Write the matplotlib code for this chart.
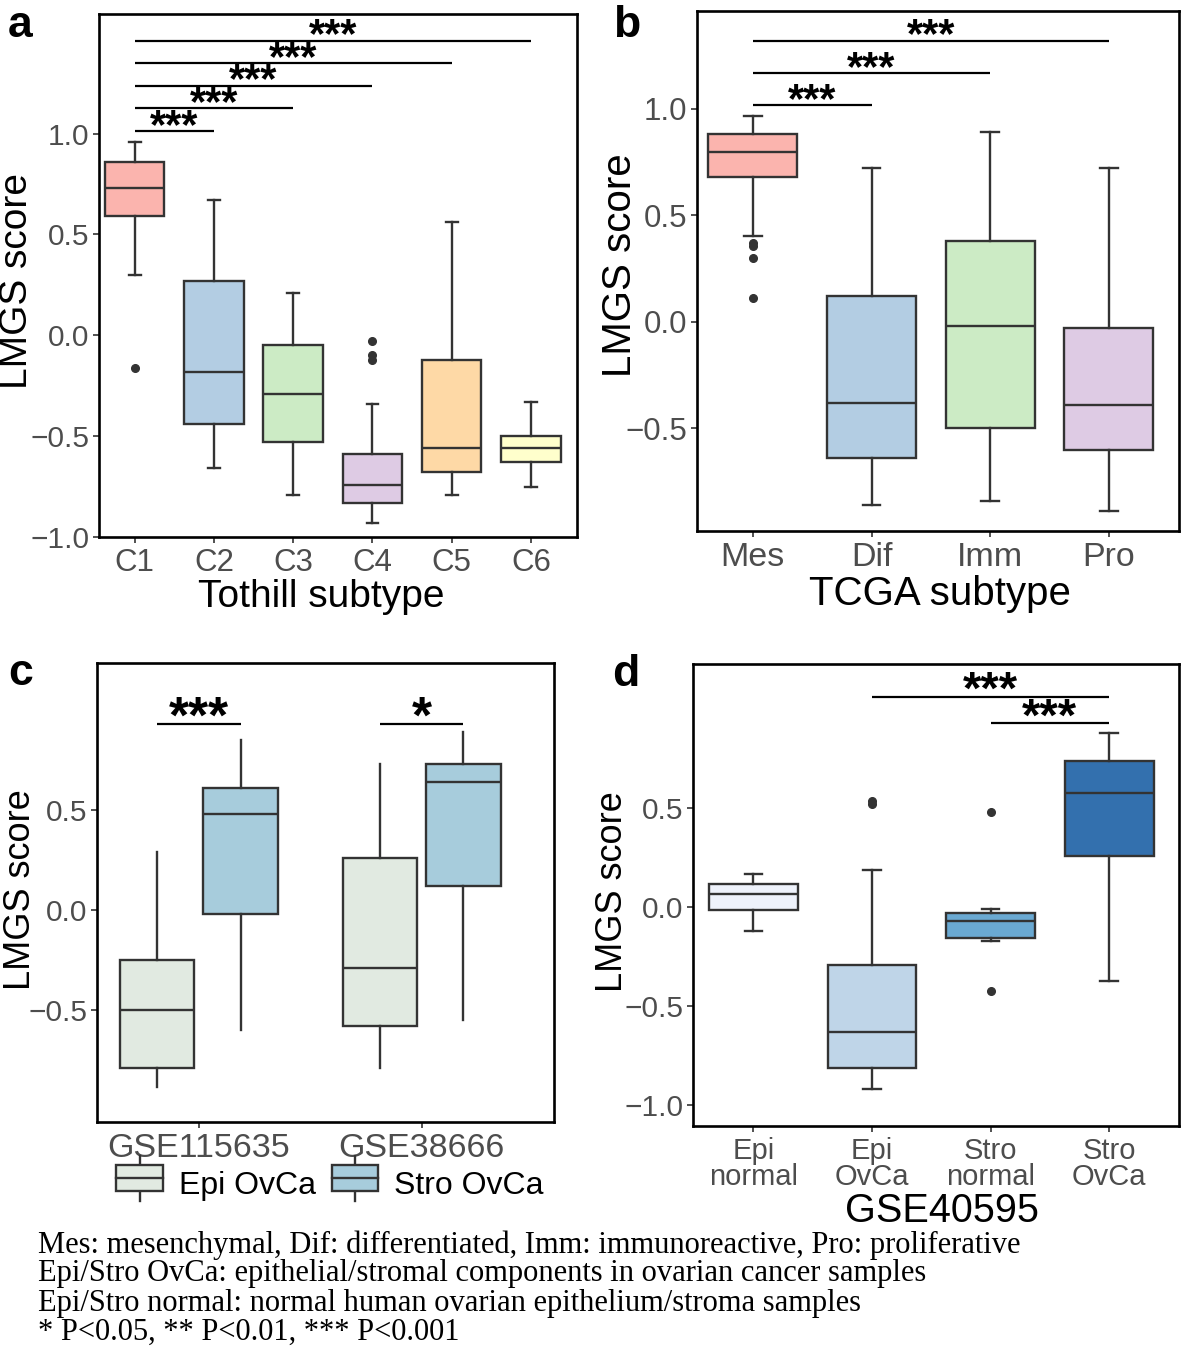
import numpy as np
import matplotlib
matplotlib.use('Agg')
import matplotlib.pyplot as plt
from matplotlib.legend_handler import HandlerBase
from matplotlib.patches import Rectangle, Patch
from matplotlib.lines import Line2D

plt.rcParams['font.family'] = ['Liberation Sans', 'DejaVu Sans']

# ---- data ----
# a: Tothill subtype
tothill = ['C1', 'C2', 'C3', 'C4', 'C5', 'C6']
tothill_lo = [0.30, -0.66, -0.79, -0.93, -0.79, -0.75]
tothill_q1 = [0.59, -0.44, -0.53, -0.83, -0.68, -0.63]
tothill_med = [0.73, -0.18, -0.29, -0.74, -0.56, -0.56]
tothill_q3 = [0.86, 0.27, -0.05, -0.59, -0.12, -0.50]
tothill_hi = [0.96, 0.67, 0.21, -0.34, 0.56, -0.33]
tothill_out = [[-0.16], [], [], [-0.03, -0.10, -0.12], [], []]
tothill_sig = [('C1', 'C2', '***'), ('C1', 'C3', '***'), ('C1', 'C4', '***'),
               ('C1', 'C5', '***'), ('C1', 'C6', '***')]

# b: TCGA subtype
tcga = ['Mes', 'Dif', 'Imm', 'Pro']
tcga_lo = [0.40, -0.86, -0.84, -0.89]
tcga_q1 = [0.68, -0.64, -0.50, -0.60]
tcga_med = [0.795, -0.38, -0.02, -0.39]
tcga_q3 = [0.88, 0.12, 0.38, -0.03]
tcga_hi = [0.965, 0.72, 0.89, 0.72]
tcga_out = [[0.37, 0.355, 0.30, 0.11], [], [], []]
tcga_sig = [('Mes', 'Dif', '***'), ('Mes', 'Imm', '***'), ('Mes', 'Pro', '***')]

# c: two datasets, epithelial vs stromal
gse_sets = ['GSE115635', 'GSE38666']
comp = ['Epi OvCa', 'Stro OvCa']
epi_lo = [-0.885, -0.79]
epi_q1 = [-0.79, -0.58]
epi_med = [-0.50, -0.29]
epi_q3 = [-0.25, 0.26]
epi_hi = [0.29, 0.73]
stro_lo = [-0.60, -0.55]
stro_q1 = [-0.02, 0.12]
stro_med = [0.48, 0.64]
stro_q3 = [0.61, 0.73]
stro_hi = [0.85, 0.89]
gse_sig = ['***', '*']

# d: GSE40595
g4 = ['Epi\nnormal', 'Epi\nOvCa', 'Stro\nnormal', 'Stro\nOvCa']
g4_lo = [-0.12, -0.92, -0.17, -0.37]
g4_q1 = [-0.015, -0.81, -0.155, 0.26]
g4_med = [0.07, -0.63, -0.07, 0.58]
g4_q3 = [0.12, -0.29, -0.03, 0.74]
g4_hi = [0.17, 0.19, -0.01, 0.88]
g4_out = [[], [0.54, 0.52], [0.48, -0.425], []]
g4_sig = [(1, 3, '***'), (2, 3, '***')]

pastel = ['#FBB4AE', '#B3CDE3', '#CCEBC5', '#DECBE4', '#FED9A6', '#FFFFCC']
c_cols = ['#E1EAE1', '#A7CCDC']
d_cols = ['#EEF2FB', '#BFD5E8', '#6AA9D2', '#3370AE']
EDGE = '#333333'
TICKC = '#4D4D4D'

W, H = 1181, 1348
fig = plt.figure(figsize=(W / 100, H / 100), dpi=100)


def add_ax(x0, x1, y0, y1):
    return fig.add_axes([x0 / W, 1 - y1 / H, (x1 - x0) / W, (y1 - y0) / H])


def ftext(x, y, s, **kw):
    # figure text placed in pixel coords from the top-left
    fig.text(x / W, 1 - y / H, s, **kw)


def boxes(ax, lo, q1, med, q3, hi, out, pos, cols, width=0.75, caps=True):
    stats = []
    for i in range(len(pos)):
        stats.append(dict(whislo=lo[i], q1=q1[i], med=med[i], q3=q3[i],
                          whishi=hi[i], fliers=out[i]))
    bp = ax.bxp(stats, positions=pos, widths=width, patch_artist=True,
                showcaps=caps, capwidths=0.15,
                boxprops=dict(edgecolor=EDGE, linewidth=1.7),
                medianprops=dict(color=EDGE, linewidth=1.7),
                whiskerprops=dict(color=EDGE, linewidth=1.7),
                capprops=dict(color=EDGE, linewidth=1.7),
                flierprops=dict(marker='o', markerfacecolor=EDGE, markeredgecolor=EDGE,
                                markersize=5.5))
    for p, c in zip(bp['boxes'], cols):
        p.set_facecolor(c)
    return bp


def style(ax, xsize, ysize):
    for s in ax.spines.values():
        s.set_linewidth(1.9)
        s.set_color('black')
    ax.tick_params(axis='x', labelsize=xsize, labelcolor=TICKC, color=EDGE,
                   length=4, width=1.2, pad=4)
    ax.tick_params(axis='y', labelsize=ysize, labelcolor=TICKC, color=EDGE,
                   length=4, width=1.2, pad=3)
    ax.yaxis.set_major_formatter(plt.FuncFormatter(
        lambda v, p: ('\u2212%.1f' % -v) if v < 0 else '%.1f' % v))


def sig(ax, x1, x2, y, txt, fs):
    ax.plot([x1, x2], [y, y], color='black', lw=1.6, solid_capstyle='butt')
    ax.annotate(txt, xy=((x1 + x2) / 2, y), xytext=(0, -0.16 * fs),
                textcoords='offset points', ha='center', va='baseline',
                fontsize=fs, fontweight='bold', color='black')


# ---- a ----
ax = add_ax(99, 577, 14, 537)
xa = np.arange(1, len(tothill) + 1)
boxes(ax, tothill_lo, tothill_q1, tothill_med, tothill_q3, tothill_hi, tothill_out,
      xa, pastel)
ax.set_xlim(0.55, 6.58)
ax.set_ylim(-1.0, 1.593)
ax.set_yticks([-1.0, -0.5, 0.0, 0.5, 1.0])
ax.set_xticks(xa)
ax.set_xticklabels(tothill)
style(ax, 22.5, 21.5)
for i, (g1, g2, t) in enumerate(tothill_sig):
    sig(ax, tothill.index(g1) + 1, tothill.index(g2) + 1, 1.013 + 0.112 * i, t, 30)
ftext(17, 281, 'LMGS score', fontsize=28, rotation=90, ha='center', va='center')
ftext(321, 597, 'Tothill subtype', fontsize=28, ha='center', va='center')
ftext(8, 37, 'a', fontsize=32, fontweight='bold')

# ---- b ----
ax = add_ax(697, 1179, 11, 531)
xb = np.arange(1, len(tcga) + 1)
boxes(ax, tcga_lo, tcga_q1, tcga_med, tcga_q3, tcga_hi, tcga_out, xb, pastel[:4])
ax.set_xlim(0.53, 4.59)
ax.set_ylim(-0.982, 1.458)
ax.set_yticks([-0.5, 0.0, 0.5, 1.0])
ax.set_xticks(xb)
ax.set_xticklabels(tcga)
style(ax, 24.5, 22.5)
for i, (g1, g2, t) in enumerate(tcga_sig):
    sig(ax, tcga.index(g1) + 1, tcga.index(g2) + 1, 1.015 + 0.152 * i, t, 30)
ftext(620, 265, 'LMGS score', fontsize=29, rotation=90, ha='center', va='center')
ftext(940, 594, 'TCGA subtype', fontsize=29, ha='center', va='center')
ftext(613, 37, 'b', fontsize=32, fontweight='bold')

# ---- c ----
ax = add_ax(97, 554, 663, 1122)
xc = np.arange(1, len(gse_sets) + 1)
off = 0.1875
boxes(ax, epi_lo, epi_q1, epi_med, epi_q3, epi_hi, [[], []], xc - off,
      [c_cols[0]] * 2, width=0.335, caps=False)
boxes(ax, stro_lo, stro_q1, stro_med, stro_q3, stro_hi, [[], []], xc + off,
      [c_cols[1]] * 2, width=0.335, caps=False)
ax.set_xlim(0.542, 2.595)
ax.set_ylim(-1.058, 1.237)
ax.set_yticks([-0.5, 0.0, 0.5])
ax.set_xticks(xc)
ax.set_xticklabels(gse_sets)
style(ax, 24.5, 21.5)
for i, t in enumerate(gse_sig):
    sig(ax, xc[i] - off, xc[i] + off, 0.93, t, 37)
ftext(21, 890, 'LMGS score', fontsize=26, rotation=90, ha='center', va='center')


class BoxKey(HandlerBase):
    def create_artists(self, legend, orig, xd, yd, w, h, fontsize, trans):
        fc = orig.get_facecolor()
        cx = xd + w / 2
        r = Rectangle((xd, yd), w, h, facecolor=fc, edgecolor=EDGE, lw=1.7,
                      transform=trans)
        m = Line2D([xd, xd + w], [yd + h / 2] * 2, color=EDGE, lw=1.7, transform=trans)
        t = Line2D([cx, cx], [yd + h, yd + h * 1.35], color=EDGE, lw=1.7, transform=trans)
        b = Line2D([cx, cx], [yd - h * 0.35, yd], color=EDGE, lw=1.7, transform=trans)
        return [t, b, r, m]


handles = [Patch(facecolor=c) for c in c_cols]
fig.legend(handles, comp, handler_map={Patch: BoxKey()}, loc='center',
           bbox_to_anchor=(330 / W, 1 - 1185 / H), ncol=2, frameon=False,
           fontsize=23, handlelength=1.45, handleheight=0.9, handletextpad=0.5,
           columnspacing=0.5)
ftext(8, 685, 'c', fontsize=32, fontweight='bold')

# ---- d ----
ax = add_ax(693, 1179, 664, 1126)
xd = np.arange(1, len(g4) + 1)
boxes(ax, g4_lo, g4_q1, g4_med, g4_q3, g4_hi, g4_out, xd, d_cols)
ax.set_xlim(0.49, 4.59)
ax.set_ylim(-1.105, 1.23)
ax.set_yticks([-1.0, -0.5, 0.0, 0.5])
ax.set_xticks(xd)
ax.set_xticklabels(g4, linespacing=0.9)
style(ax, 21, 21.5)
for i, (g1, g2, t) in enumerate(g4_sig):
    sig(ax, xd[g1], xd[g2], 1.065 - 0.135 * i, t, 34)
ftext(613, 892, 'LMGS score', fontsize=26, rotation=90, ha='center', va='center')
ftext(942, 1211, 'GSE40595', fontsize=28.5, ha='center', va='center')
ftext(612, 686, 'd', fontsize=32, fontweight='bold')

# ---- caption ----
caption = ['Mes: mesenchymal, Dif: differentiated, Imm: immunoreactive, Pro: proliferative',
           'Epi/Stro OvCa: epithelial/stromal components in ovarian cancer samples',
           'Epi/Stro normal: normal human ovarian epithelium/stroma samples',
           '* P<0.05, ** P<0.01, *** P<0.001']
for i, line in enumerate(caption):
    ftext(38, 1245 + 29 * i, line, fontsize=22, family='Liberation Serif',
          va='center', ha='left', color='black')

fig.savefig('out.png', dpi=100)
